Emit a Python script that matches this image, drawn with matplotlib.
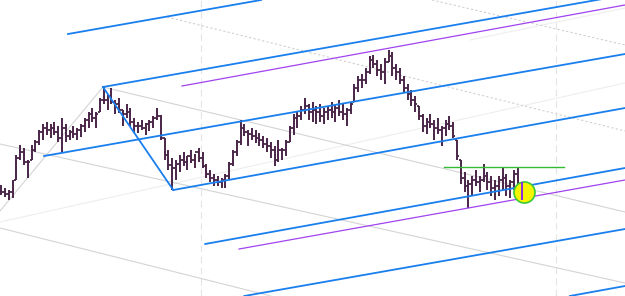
import numpy as np
import matplotlib
matplotlib.use("Agg")
import matplotlib.pyplot as plt

# OHLC bars (price units, one entry per bar)
highs = [115, 112, 110, 120, 145, 155, 152, 140, 155, 160,
         170, 176, 178, 176, 178, 174, 182, 176, 170, 174,
         172, 176, 182, 188, 192, 188, 202, 213, 206, 212,
         200, 202, 190, 196, 192, 182, 178, 180, 177, 180,
         184, 192, 185, 162, 150, 142, 140, 145, 148, 144,
         150, 146, 152, 148, 136, 130, 126, 124, 122, 126,
         138, 150, 160, 180, 176, 170, 172, 170, 167, 164,
         162, 158, 154, 160, 152, 160, 174, 186, 188, 194,
         202, 196, 198, 194, 196, 192, 194, 198, 195, 200,
         196, 192, 198, 216, 224, 226, 232, 244, 245, 240,
         236, 242, 250, 248, 236, 232, 224, 216, 210, 204,
         194, 186, 182, 186, 180, 182, 174, 180, 184, 178,
         160, 140, 128, 120, 124, 130, 124, 136, 128, 124,
         120, 124, 132, 126, 120, 130, 132, 118]
lows = [105, 103, 100, 102, 120, 140, 135, 122, 140, 148,
        155, 160, 165, 162, 165, 158, 147, 158, 160, 162,
        160, 163, 168, 172, 178, 172, 188, 196, 190, 196,
        186, 187, 174, 182, 174, 167, 167, 170, 165, 169,
        172, 180, 160, 140, 130, 110, 120, 128, 134, 130,
        137, 132, 138, 132, 122, 118, 114, 114, 112, 112,
        120, 134, 144, 155, 164, 154, 160, 157, 154, 152,
        148, 142, 134, 138, 140, 144, 158, 165, 172, 180,
        186, 180, 178, 176, 178, 176, 180, 182, 178, 184,
        180, 174, 186, 198, 208, 212, 216, 226, 232, 224,
        220, 216, 238, 224, 220, 216, 208, 200, 194, 188,
        180, 168, 166, 172, 160, 166, 154, 164, 170, 162,
        140, 116, 108, 92, 104, 114, 108, 118, 110, 104,
        100, 104, 110, 104, 102, 110, 114, 100]
closes = [108, 106, 108, 118, 142, 148, 138, 138, 150, 158,
          168, 172, 170, 172, 168, 162, 172, 164, 168, 166,
          170, 174, 180, 186, 182, 186, 200, 200, 204, 198,
          196, 190, 186, 188, 178, 174, 174, 172, 176, 178,
          182, 184, 162, 145, 135, 132, 136, 140, 138, 144,
          140, 148, 142, 134, 126, 122, 120, 118, 120, 124,
          136, 148, 158, 172, 168, 166, 164, 162, 160, 156,
          154, 150, 140, 150, 150, 158, 172, 182, 184, 190,
          194, 188, 190, 188, 184, 188, 190, 188, 192, 188,
          186, 190, 196, 212, 220, 220, 228, 240, 236, 230,
          228, 238, 244, 232, 228, 220, 212, 206, 200, 196,
          184, 174, 178, 176, 172, 170, 172, 176, 174, 164,
          144, 122, 114, 116, 120, 118, 120, 124, 118, 112,
          114, 120, 122, 114, 118, 126, 116, 108]

# drawing tools: segments as ((bar, price), (bar, price))
blue_lines = [((17.6, 266), (68.4, 300)),
              ((26.8, 213), (164.2, 305)),
              ((11.3, 144), (164.2, 246)),
              ((45.3, 110), (164.2, 192)),
              ((53.7, 56), (164.2, 132)),
              ((64.0, 4), (164.2, 71)),
              ((149.7, 4), (164.2, 14)),
              ((26.8, 213), (45.3, 110))]
purple_lines = [((47.6, 214), (164.2, 295)),
                ((62.6, 51), (164.2, 120))]
grey_lines = [((-0.3, 89), (26.8, 213)),
              ((26.8, 213), (164.2, 88)),
              ((-0.3, 156), (164.2, 17)),
              ((-0.3, 72), (71.0, 4))]
grey_dotted = [((43.7, 283), (164.2, 169)),
               ((113.4, 300), (164.2, 255))]
faint_lines = [((-0.3, 78), (164.2, 217)),
               ((123.4, 260), (164.2, 292))]
vlines_x = [52.6, 146.0]
green_line = ((116.6, 133), (148.2, 133))
marker_pt = (137.6, 108)

fig = plt.figure(figsize=(6.25, 2.96), dpi=100)
ax = fig.add_axes([0, 0, 1, 1])
ax.set_xlim(-0.3, 164.2)
ax.set_ylim(4, 300)
ax.axis("off")

for x in vlines_x:
    ax.axvline(x, color="#e4e4e4", lw=0.8, ls=(0, (6, 4)), zorder=1)
for (x0, y0), (x1, y1) in faint_lines:
    ax.plot([x0, x1], [y0, y1], color="#eeeeee", lw=0.8, zorder=1)
for (x0, y0), (x1, y1) in grey_lines:
    ax.plot([x0, x1], [y0, y1], color="#d4d4d4", lw=0.8, zorder=1)
for (x0, y0), (x1, y1) in grey_dotted:
    ax.plot([x0, x1], [y0, y1], color="#d0d0d0", lw=0.8, ls=(0, (2, 2)), zorder=1)

idx = np.arange(len(highs))
hi = np.array(highs)
lo = np.array(lows)
cl = np.array(closes)
op = np.clip(np.r_[cl[0], cl[:-1]], lo, hi)
bar_col = ["#4a2548"] * (len(idx) - 1) + ["#8a2be2"]
ax.vlines(idx, lo, hi, colors=bar_col, lw=1.4, zorder=3)
ax.hlines(op, idx - 0.5, idx, colors=bar_col, lw=1.3, zorder=3)
ax.hlines(cl, idx, idx + 0.5, colors=bar_col, lw=1.3, zorder=3)

for (x0, y0), (x1, y1) in blue_lines:
    ax.plot([x0, x1], [y0, y1], color="#1a7fee", lw=1.3, zorder=4)
for (x0, y0), (x1, y1) in purple_lines:
    ax.plot([x0, x1], [y0, y1], color="#a243f0", lw=0.9, zorder=4)
ax.plot([green_line[0][0], green_line[1][0]], [green_line[0][1], green_line[1][1]],
        color="#33bb33", lw=1.0, zorder=4)

ax.scatter([marker_pt[0]], [marker_pt[1]], s=230, color="#f5f500",
           edgecolors="#3cc83c", linewidths=1.2, zorder=5)
ax.vlines(idx[-1:], lo[-1:], hi[-1:], colors="#8a2be2", lw=1.4, zorder=6)

fig.savefig("out.png", dpi=100)
